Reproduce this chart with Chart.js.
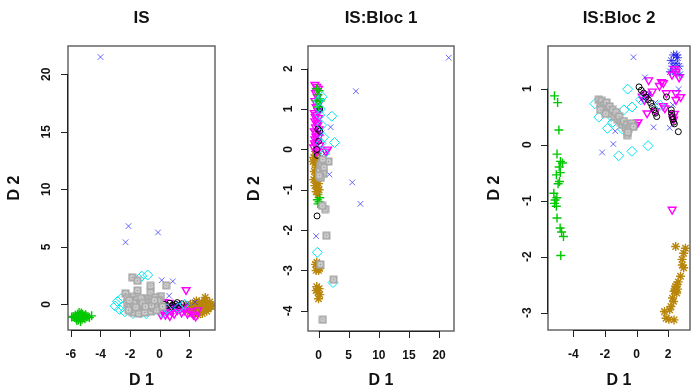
<!DOCTYPE html>
<html><head><meta charset="utf-8">
<script src="https://cdn.jsdelivr.net/npm/chart.js@4"></script>
<style>
html,body{margin:0;padding:0;background:#fff;overflow:hidden;width:693px;height:391px;position:relative}
canvas{position:absolute;top:0}
</style></head><body>
<canvas id="c1" width="231" height="391" style="left:0px"></canvas>
<canvas id="c2" width="231" height="391" style="left:231px"></canvas>
<canvas id="c3" width="234" height="391" style="left:462px"></canvas>
<script>
// ---------- titles & ticks ----------
const titles = ["IS", "IS:Bloc 1", "IS:Bloc 2"];
const xLabel = "D 1", yLabel = "D 2";
const p1XTicks = [-6, -4, -2, 0, 2], p1YTicks = [0, 5, 10, 15, 20];
const p2XTicks = [0, 5, 10, 15, 20], p2YTicks = [-4, -3, -2, -1, 0, 1, 2];
const p3XTicks = [-4, -2, 0, 2],     p3YTicks = [-3, -2, -1, 0, 1];

// ---------- panel 1 : IS ----------
const p1Green = [[-5.85,-1.05],[-5.75,-1.15],[-5.7,-0.95],[-5.65,-1.25],[-5.6,-1.05],[-5.55,-0.85],[-5.5,-1.35],[-5.5,-1.1],[-5.45,-0.7],[-5.4,-1.2],[-5.4,-0.95],[-5.35,-1.5],[-5.3,-1.05],[-5.25,-1.3],[-5.2,-0.85],[-5.15,-1.15],[-5.1,-1.0],[-5.05,-1.25],[-5.0,-0.9],[-4.95,-1.1],[-4.85,-1.05],[-4.75,-1.15],[-4.6,-1.0],[-5.6,-1.4],[-5.3,-0.75],[-5.95,-1.1],[-5.45,-1.0],[-5.25,-1.15],[-5.35,-0.9]];
const p1BlueX = [[-4.0,21.5],[-2.1,6.8],[-2.3,5.4],[-0.1,6.25],[0.15,2.1],[0.9,2.0],[0.65,0.75],[1.3,0.05],[1.9,0.1],[2.4,0.2],[0.4,-0.1],[1.0,-0.2]];
const p1Gray = [[-1.85,2.35],[-1.5,2.05],[0.45,1.65],[-0.6,1.6],[-2.3,0.95],[-1.5,1.2],[-0.6,1.0],[0.1,0.72],[-1.8,0.65],[-2.2,0.55],[-0.9,0.5],[0.0,0.3],[-0.3,0.6],[-2.2,0.1],[-2.0,-0.2],[-1.9,0.3],[-1.7,-0.5],[-1.6,0.0],[-1.5,0.4],[-1.4,-0.3],[-1.3,0.2],[-1.2,-0.6],[-1.1,-0.1],[-1.0,0.3],[-0.9,-0.4],[-0.8,0.1],[-0.7,-0.2],[-0.6,-0.6],[-0.5,0.2],[-0.4,-0.3],[-0.3,0.0],[-0.2,-0.5],[-0.1,0.3],[-1.8,-0.7],[-1.4,-0.8],[-1.0,-0.7],[-2.1,-0.5],[-1.25,0.55],[0.2,-0.2],[-1.75,0.1],[-1.15,0.1],[-0.55,-0.1],[-1.6,-0.25],[-0.95,-0.2],[-2.05,0.35],[-0.35,0.35]];
const p1Cyan = [[-0.8,2.55],[-1.2,2.45],[-1.4,2.2],[-2.85,0.25],[-3.0,-0.15],[-2.7,-0.45],[-2.35,-0.65],[-1.8,-0.8],[-1.3,-0.75],[-0.4,-0.5],[-0.5,0.1],[0.2,-0.75],[0.5,-0.4],[-2.6,0.5],[-2.5,-0.2],[-0.9,-0.8],[1.3,-0.3],[1.7,0.0],[-0.2,-0.1]];
const p1Black = [[0.3,0.0],[0.5,-0.1],[0.7,0.1],[0.9,-0.05],[1.1,0.0],[1.3,-0.1],[1.5,0.05],[1.2,0.15],[0.8,-0.2],[-0.2,0.1]];
const p1Magenta = [[1.8,1.25],[0.0,-0.4],[0.2,-0.6],[0.3,-0.3],[0.5,-0.7],[0.6,-0.4],[0.8,-0.6],[0.9,-0.3],[1.0,-0.8],[1.2,-0.5],[1.4,-0.4],[1.5,-0.7],[1.7,-0.5],[1.9,-0.8],[2.1,-0.6],[2.3,-0.9],[2.45,-1.05],[0.1,-0.9],[0.4,-0.9],[2.6,-0.5],[1.1,-0.2],[0.7,-1.0],[0.3,0.2],[0.65,0.15],[1.6,-0.2],[0.45,-0.45]];
const p1Gold = [[1.7,-0.4],[1.8,-0.1],[1.9,-0.6],[2.0,-0.3],[2.1,0.0],[2.2,-0.5],[2.3,-0.2],[2.4,-0.7],[2.4,0.1],[2.5,-0.4],[2.6,-0.1],[2.7,-0.6],[2.7,0.2],[2.8,-0.3],[2.9,0.0],[2.9,-0.8],[3.0,-0.5],[3.1,0.3],[3.1,-0.2],[3.2,-0.6],[3.3,0.0],[3.3,-0.4],[3.4,0.2],[3.5,-0.2],[3.6,-0.1],[3.1,0.6],[2.2,-0.8],[2.6,-0.9],[3.0,0.1],[2.5,0.3],[2.75,-0.15],[3.05,-0.3],[2.35,-0.35],[3.25,-0.15]];
const p1BlueStar = [];

// ---------- panel 2 : IS:Bloc 1 ----------
const p2Magenta = [[-0.6,1.6],[-0.3,1.55],[0.0,1.5],[-0.5,1.4],[-0.2,1.3],[-0.6,1.2],[0.1,1.15],[-0.4,1.05],[-0.7,0.9],[-0.3,0.85],[0.0,0.78],[-0.6,0.7],[-0.2,0.65],[-0.5,0.55],[0.1,0.5],[-0.7,0.45],[-0.3,0.4],[0.0,0.3],[-0.6,0.25],[-0.2,0.2],[-0.5,0.1],[0.2,0.1],[-0.8,0.05],[-0.1,0.0],[-0.4,-0.05],[1.5,0.0],[1.2,-0.05],[-0.35,1.45],[-0.1,0.95],[-0.45,0.32],[-0.55,0.8],[-0.15,0.6],[-0.65,0.15]];
const p2Green = [[-0.3,1.5],[0.1,1.45],[-0.1,1.35],[0.2,1.25],[-0.4,1.2],[0.3,1.2],[0.0,1.05],[-0.2,-1.25],[0.1,-1.3],[-0.1,-1.35],[0.2,-1.2]];
const p2Cyan = [[2.2,0.82],[2.65,0.17],[0.85,0.3],[-0.2,-2.55],[2.4,-3.3],[0.5,0.6],[0.3,1.0],[0.6,1.3],[0.2,0.85],[0.4,0.15],[1.0,-0.1],[0.0,1.2]];
const p2BlueX = [[21.6,2.27],[6.2,1.44],[2.0,0.55],[5.6,-0.82],[6.95,-1.35],[1.8,-0.62],[-0.4,-2.15],[1.0,-0.1],[0.5,0.4],[0.2,1.0],[0.6,-0.4]];
const p2Gray = [[1.65,-0.3],[1.1,-1.48],[1.3,-2.14],[2.5,-3.23],[0.7,-4.22],[0.3,-0.4],[0.6,-0.5],[0.2,-0.55],[0.8,-0.6],[0.4,-0.7],[0.1,-0.65],[0.5,-0.35],[0.9,-0.45],[0.6,-1.4],[0.3,-2.85],[0.7,-0.25]];
const p2Black = [[-0.25,-1.65],[0.2,1.0],[-0.1,0.5],[0.0,0.2],[-0.3,0.0],[0.2,0.45],[-0.2,-0.15]];
const p2Gold = [[-0.5,-0.05],[-0.2,-0.1],[-0.8,-0.2],[-0.3,-0.25],[0.1,-0.3],[-0.6,-0.35],[-0.9,-0.3],[-0.4,-0.45],[0.0,-0.5],[-0.7,-0.55],[-0.2,-0.6],[-0.5,-0.7],[0.2,-0.7],[-0.8,-0.75],[-0.3,-0.8],[0.0,-0.85],[-0.6,-0.9],[-0.2,-0.95],[-0.4,-1.05],[0.1,-1.0],[-0.1,-1.12],[-0.5,-0.15],[-0.5,-2.85],[-0.2,-2.9],[0.1,-2.85],[-0.4,-3.0],[0.0,-3.0],[-0.1,-2.95],[0.2,-2.95],[-0.3,-2.8],[-0.3,-3.4],[0.1,-3.45],[-0.1,-3.55],[0.0,-3.7],[-0.4,-3.5],[0.2,-3.6]];
const p2BlueStar = [];

// ---------- panel 3 : IS:Bloc 2 ----------
const p3Green = [[-5.2,0.87],[-5.0,0.75],[-4.92,0.26],[-5.04,-0.17],[-4.82,-0.3],[-4.69,-0.33],[-4.9,-0.4],[-5.08,-0.54],[-4.83,-0.5],[-4.88,-0.66],[-4.97,-0.7],[-5.24,-0.87],[-5.16,-0.99],[-5.05,-0.95],[-5.08,-1.1],[-5.2,-1.05],[-5.04,-1.31],[-4.84,-1.49],[-4.75,-1.56],[-4.63,-1.64],[-4.8,-1.98]];
const p3Gold = [[2.48,-1.82],[2.99,-1.94],[2.89,-2.05],[2.99,-2.2],[2.79,-2.35],[2.65,-2.45],[2.48,-2.53],[2.55,-2.5],[2.45,-2.6],[2.55,-2.65],[2.38,-2.62],[2.28,-2.74],[2.35,-2.8],[2.18,-2.89],[2.1,-2.95],[1.77,-2.98],[1.87,-3.1],[2.05,-3.12],[2.38,-3.13],[3.1,-1.85],[2.9,-2.15],[2.6,-2.58]];
const p3Magenta = [[2.26,-1.16],[0.77,1.15],[1.58,1.12],[1.45,1.05],[1.7,1.1],[1.89,0.92],[2.5,0.92],[2.5,0.8],[0.67,0.56],[1.69,0.69],[1.8,0.65],[0.36,0.86],[0.5,0.8],[0.6,0.9],[0.65,0.85],[2.3,0.5],[2.4,0.55],[2.35,0.45],[2.25,1.25],[2.5,1.3],[2.7,1.2],[2.4,1.35],[-0.04,0.35],[-0.2,0.36],[0.1,0.4],[1.0,0.95],[2.8,0.85],[1.2,0.6]];
const p3Black = [[0.16,1.03],[0.3,0.97],[0.45,0.92],[0.6,0.85],[0.75,0.8],[0.9,0.74],[1.0,0.68],[1.1,0.62],[1.2,0.56],[1.28,0.5],[2.2,0.62],[2.22,0.56],[2.25,0.5],[2.3,0.45],[2.35,0.4],[2.4,0.37],[2.65,0.23],[1.9,0.85]];
const p3Cyan = [[-2.64,0.73],[-2.39,0.49],[-1.84,0.29],[-1.13,-0.2],[-0.29,-0.12],[0.73,-0.02],[-0.56,0.99],[-0.29,0.67],[-0.8,0.62],[-1.5,0.4],[-0.9,0.28],[0.26,0.8],[1.5,0.7],[-1.6,0.5],[-0.6,0.35]];
const p3BlueX = [[-0.19,1.56],[0.53,1.2],[-2.18,-0.14],[-1.47,0.01],[-1.35,0.24],[1.08,0.31],[2.1,0.3],[2.67,0.99],[2.3,0.71],[0.8,0.9],[1.2,0.75],[0.3,0.8]];
const p3BlueStar = [[2.2,1.5],[2.35,1.6],[2.5,1.45],[2.3,1.4],[2.6,1.55],[2.45,1.3],[2.7,1.4],[2.15,1.3],[2.55,1.6],[2.75,1.25]];
const p3Gray = [[-2.4,0.8],[-2.3,0.72],[-2.2,0.78],[-2.1,0.7],[-2.0,0.65],[-1.9,0.75],[-1.8,0.6],[-1.7,0.68],[-1.6,0.55],[-1.5,0.62],[-1.4,0.5],[-1.3,0.58],[-1.2,0.45],[-1.1,0.5],[-1.0,0.4],[-0.9,0.35],[-0.8,0.42],[-0.7,0.3],[-0.6,0.36],[-0.5,0.28],[-0.4,0.33],[-0.3,0.38],[-0.2,0.32],[-0.6,0.17],[-2.3,0.62],[-1.95,0.55],[-0.55,0.22]];

// ---------- glyphs ----------
function boxDot(){
  const c = document.createElement('canvas'); c.width = 9; c.height = 9;
  const g = c.getContext('2d');
  g.fillStyle = '#a8a8a8'; g.fillRect(0.5,0.5,8,8);
  g.fillStyle = '#e8e8e8'; g.fillRect(2.5,2.5,4,4);
  g.fillStyle = '#9a9a9a'; g.fillRect(3.5,3.5,2,2);
  return c;
}
const grayGlyph = boxDot();
const FONT = '"Liberation Sans", Arial, Helvetica, sans-serif';

function pts(a){ return a.map(([x,y]) => ({x, y})); }
function ds(data, style){ return Object.assign({data: pts(data), pointBackgroundColor:'rgba(0,0,0,0)'}, style); }

const S = {
  gray:    {pointStyle: grayGlyph, pointRadius: 4.5, pointBorderColor:'#a8a8a8'},
  cyan:    {pointStyle:'rectRot', pointRadius:5, pointBorderColor:'#00e5ee', pointBorderWidth:1},
  green:   {pointStyle:'cross', pointRadius:4.5, pointBorderColor:'#00c800', pointBorderWidth:1.4},
  blueX:   {pointStyle:'crossRot', pointRadius:4, pointBorderColor:'rgba(40,40,255,0.7)', pointBorderWidth:1},
  black:   {pointStyle:'circle', pointRadius:3, pointBorderColor:'#000', pointBorderWidth:1},
  magenta: {pointStyle:'triangle', rotation:180, pointRadius:4.5, pointBorderColor:'#ff00ff', pointBorderWidth:1.4},
  gold:    {pointStyle:'star', pointRadius:4.5, pointBorderColor:'#b8860b', pointBorderWidth:1.4},
  blueStar:{pointStyle:'star', pointRadius:4.5, pointBorderColor:'rgba(20,20,240,0.8)', pointBorderWidth:1}
};

const rAxes = {
  id:'rAxes',
  afterDraw(chart, args, o){
    const {ctx, chartArea:a, scales:{x, y}} = chart;
    ctx.save();
    ctx.strokeStyle = '#666'; ctx.lineWidth = 1.5;
    ctx.strokeRect(a.left, a.top, a.right - a.left, a.bottom - a.top);
    ctx.strokeStyle = '#222'; ctx.lineWidth = 1;
    ctx.fillStyle = '#111';
    ctx.font = 'bold 12px ' + FONT;
    const xt = o.xTicks, yt = o.yTicks;
    ctx.beginPath();
    ctx.moveTo(x.getPixelForValue(xt[0]), a.bottom + 0.5);
    ctx.lineTo(x.getPixelForValue(xt[xt.length-1]), a.bottom + 0.5);
    xt.forEach(v => { const p = Math.round(x.getPixelForValue(v)) + 0.5; ctx.moveTo(p, a.bottom); ctx.lineTo(p, a.bottom + 7); });
    ctx.moveTo(a.left - 0.5, y.getPixelForValue(yt[0]));
    ctx.lineTo(a.left - 0.5, y.getPixelForValue(yt[yt.length-1]));
    yt.forEach(v => { const p = Math.round(y.getPixelForValue(v)) + 0.5; ctx.moveTo(a.left, p); ctx.lineTo(a.left - 7, p); });
    ctx.stroke();
    ctx.textAlign = 'center'; ctx.textBaseline = 'middle';
    xt.forEach(v => ctx.fillText(String(v), x.getPixelForValue(v), a.bottom + 25));
    yt.forEach(v => {
      ctx.save(); ctx.translate(a.left - o.yLabOff, y.getPixelForValue(v)); ctx.rotate(-Math.PI/2);
      ctx.fillText(String(v), 0, 0); ctx.restore();
    });
    const cx = (a.left + a.right) / 2;
    ctx.font = 'bold 16px ' + FONT;
    ctx.fillText(xLabel, cx, 381);
    ctx.save(); ctx.translate(a.left - 53, (a.top + a.bottom) / 2); ctx.rotate(-Math.PI/2);
    ctx.fillText(yLabel, 0, 0); ctx.restore();
    ctx.font = 'bold 17px ' + FONT;
    ctx.fillText(o.title, cx, 18);
    ctx.restore();
  }
};

function makeChart(id, P, lim, pad, xTicks, yTicks, title, yLabOff){
  const datasets = [
    ds(P.gray, S.gray), ds(P.cyan, S.cyan), ds(P.green, S.green), ds(P.blueX, S.blueX),
    ds(P.black, S.black), ds(P.magenta, S.magenta), ds(P.gold, S.gold), ds(P.blueStar, S.blueStar)
  ];
  return new Chart(document.getElementById(id), {
    type:'scatter',
    data:{datasets},
    options:{
      responsive:false, animation:false, devicePixelRatio:1,
      layout:{padding:pad},
      scales:{
        x:{type:'linear', min:lim[0], max:lim[1], display:false},
        y:{type:'linear', min:lim[2], max:lim[3], display:false}
      },
      plugins:{legend:{display:false}, tooltip:{enabled:false},
        rAxes:{xTicks, yTicks, title, yLabOff}}
    },
    plugins:[rAxes]
  });
}

makeChart('c1',
  {gray:p1Gray, cyan:p1Cyan, green:p1Green, blueX:p1BlueX, black:p1Black, magenta:p1Magenta, gold:p1Gold, blueStar:p1BlueStar},
  [-6.2, 3.76, -2.23, 22.46], {left:68, right:16, top:46, bottom:61}, p1XTicks, p1YTicks, titles[0], 21);
makeChart('c2',
  {gray:p2Gray, cyan:p2Cyan, green:p2Green, blueX:p2BlueX, black:p2Black, magenta:p2Magenta, gold:p2Gold, blueStar:p2BlueStar},
  [-1.75, 22.48, -4.5, 2.56], {left:77, right:8, top:46, bottom:60}, p2XTicks, p2YTicks, titles[1], 19);
makeChart('c3',
  {gray:p3Gray, cyan:p3Cyan, green:p3Green, blueX:p3BlueX, black:p3Black, magenta:p3Magenta, gold:p3Gold, blueStar:p3BlueStar},
  [-5.61, 3.39, -3.31, 1.76], {left:86, right:1, top:46, bottom:61}, p3XTicks, p3YTicks, titles[2], 20);
</script>
</body></html>
